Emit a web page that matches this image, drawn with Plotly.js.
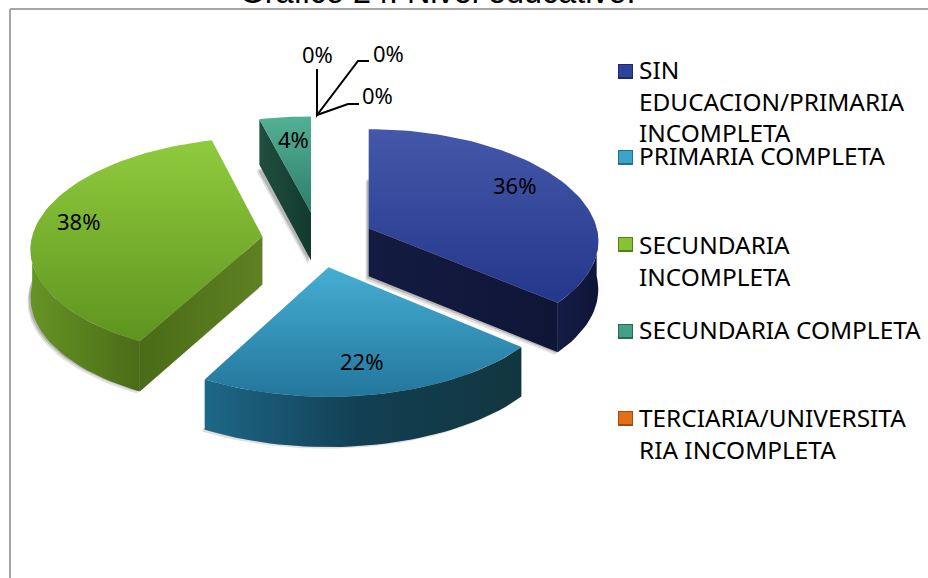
<!DOCTYPE html>
<html><head><meta charset="utf-8">
<script src="https://cdn.plot.ly/plotly-3.0.1.min.js"></script>
<style>html,body{margin:0;padding:0;background:#fff}</style></head>
<body><div id="chart" style="width:928px;height:578px"></div>
<script>
// --- data ---
const categories = ["SIN EDUCACION/PRIMARIA INCOMPLETA","PRIMARIA COMPLETA","SECUNDARIA INCOMPLETA","SECUNDARIA COMPLETA","TERCIARIA/UNIVERSITARIA INCOMPLETA"];
const legendLabels = ["SIN<br>EDUCACION/PRIMARIA<br>INCOMPLETA","PRIMARIA COMPLETA","SECUNDARIA<br>INCOMPLETA","SECUNDARIA COMPLETA","TERCIARIA/UNIVERSITA<br>RIA INCOMPLETA"];
const values = [36,22,38,4,0,0,0];
const titleText = "Gráfico 24: Nivel educativo:";

// --- styling / layout ---
// top faces: [bottom colour, top colour] on the flipped pixel axis
const topColors  = [["#25378a","#4557a9"],["#23769c","#46aed3"],["#5e941f","#90cb3d"],["#2e7e6b","#52b094"]];
const arcColors  = [["#141c46","#0e1535"],["#1d6788","#123f52","#12363f"],["#659524","#4a6b17"],["#214e3f","#123a2e"]];
const radColors  = [["#141b42","#0f1536"],["#1d6788","#12363f"],["#4a6b17","#5f8122"],["#214e3f","#123a2e"]];
const swatchInner = ["#30439a","#3ea3cb","#86c232","#45a088","#e2701a"];
const swatchOuter = ["#1c2a70","#1f7092","#54801a","#276b57","#a84a08"];
const legendTops = [64,150,237,324,411];
const legendTextTops = [51,137,226,311,399];
const labelPos   = [[514,185],[361,361],[78,221],[293,139],[377,95],[388,53],[317,54]];
const scaleX = [1,1.02,1.01,1.03];   // per-slice fit of the drawing's perspective
const scaleY = [1,1.07,1,0.97];
const CX=318, CY=240, RA=228, RB=110, PA=56, PB=27.7, PERSP_X=0.12, PERSP_Y=0.10, DEPTH=48;

const rad = d => d*Math.PI/180;
const total = values.reduce((a,b)=>a+b,0);
function apex(m){ return [CX+PA*Math.sin(rad(m)), CY-PB*Math.cos(rad(m))]; }
function rim(ap,t,k){ const c=Math.cos(rad(t));
  return [ap[0]+scaleX[k]*RA*(1-PERSP_X*c)*Math.sin(rad(t)), ap[1]-scaleY[k]*RB*(1-PERSP_Y*c)*c]; }
function depth(t){ return DEPTH*(1-0.05*Math.cos(rad(t))); }
function arc(a,b){ const p=[],n=Math.max(2,Math.ceil(Math.abs(b-a)/2));
  for(let i=0;i<=n;i++) p.push(a+(b-a)*i/n); return p; }
function grad(type,cols){ return {type:type,colorscale:cols.map((c,i)=>[i/(cols.length-1),c])}; }
function poly(pts,name,extra){ return Object.assign({type:'scatter',mode:'lines',x:pts.map(p=>p[0]),y:pts.map(p=>p[1]),
  fill:'toself',line:{width:0},name:name,hoverinfo:'name',showlegend:false},extra); }

let start=0; const slices=[];
values.forEach((v,i)=>{ const sweep=v/total*360;
  if(v>0) slices.push({i,a:start,b:start+sweep,m:start+sweep/2}); start+=sweep; });

const order=[3,2,0,1];
const traces=[];
order.forEach(k=>{
  const s=slices[k], ap=apex(s.m), nm=categories[s.i]+": "+values[s.i]+"%";
  const ts=arc(s.a,s.b);
  const top=[ap].concat(ts.map(t=>rim(ap,t,k))); top.push(ap);
  // soft shadow under the extruded bottom
  [[-3,4,'rgba(0,0,0,0.12)'],[-2,2,'rgba(0,0,0,0.18)']].forEach(o=>{
    const bot=top.map(p=>[p[0]+o[0], p[1]+DEPTH+o[1]]);
    traces.push(poly(bot,nm,{fillcolor:o[2],hoverinfo:'skip'}));
  });
  // radial walls that face the viewer
  const radial=(t,cols)=>{ const r=rim(ap,t,k), d=depth(t), d0=DEPTH;
    traces.push(poly([ap,r,[r[0],r[1]+d],[ap[0],ap[1]+d0],ap],nm,{fillgradient:grad('horizontal',cols)})); };
  if(Math.sin(rad(s.a))<-1e-6) radial(s.a,radColors[k]);
  if(Math.sin(rad(s.b))>1e-6) radial(s.b,radColors[k]);
  // outer wall, front half of the rim only
  const lo=Math.max(s.a,90), hi=Math.min(s.b,270);
  if(hi>lo){ const as=arc(lo,hi), up=as.map(t=>rim(ap,t,k)),
    dn=as.map((t,j)=>[up[j][0],up[j][1]+depth(t)]).reverse();
    const ring=up.concat(dn); ring.push(up[0]);
    traces.push(poly(ring,nm,{fillgradient:grad('horizontal',arcColors[k])})); }
  traces.push(poly(top,nm,{fillgradient:grad('vertical',topColors[k])}));
});

const annotations=[];
values.forEach((v,i)=>annotations.push({x:labelPos[i][0],y:labelPos[i][1],xref:'x',yref:'y',text:v+'%',showarrow:false,
  xanchor:'center',yanchor:'middle',font:{family:'Noto Sans',size:22,color:'#000'}}));
legendLabels.forEach((t,i)=>annotations.push({x:637,y:legendTextTops[i],xref:'x',yref:'y',text:t,showarrow:false,align:'left',
  xanchor:'left',yanchor:'top',font:{family:'Noto Sans',size:24.4,color:'#000'}}));

const shapes=[
 {type:'line',xref:'x',yref:'y',x0:10,y0:9,x1:928,y1:9,line:{color:'#a6a6a6',width:2}},
 {type:'line',xref:'x',yref:'y',x0:10,y0:9,x1:10,y1:578,line:{color:'#a6a6a6',width:2}},
 {type:'path',xref:'x',yref:'y',path:'M317,69 L317,115 L358,61 L369,61',line:{color:'#000',width:2},fillcolor:'rgba(0,0,0,0)'},
 {type:'path',xref:'x',yref:'y',path:'M317,115 L348,104 L359,104',line:{color:'#000',width:2},fillcolor:'rgba(0,0,0,0)'}
];
legendTops.forEach((y,i)=>{
  shapes.push({type:'rect',xref:'x',yref:'y',x0:618,x1:633,y0:y,y1:y+15,fillcolor:swatchOuter[i],line:{width:0}});
  shapes.push({type:'rect',xref:'x',yref:'y',x0:619,x1:632,y0:y+1,y1:y+13,fillcolor:swatchInner[i],line:{width:0}});
});

Plotly.newPlot('chart',traces,{
  width:928,height:578,margin:{l:0,r:0,t:0,b:0},paper_bgcolor:'#fff',plot_bgcolor:'#fff',showlegend:false,
  title:{text:titleText,font:{family:'Liberation Sans',size:32.4,color:'#000'},x:0.4715,xanchor:'center',xref:'paper',yref:'container',y:0.995,yanchor:'bottom'},
  xaxis:{range:[0,928],visible:false,fixedrange:true},
  yaxis:{range:[578,0],visible:false,fixedrange:true},
  annotations,shapes
},{displayModeBar:false});
</script></body></html>
